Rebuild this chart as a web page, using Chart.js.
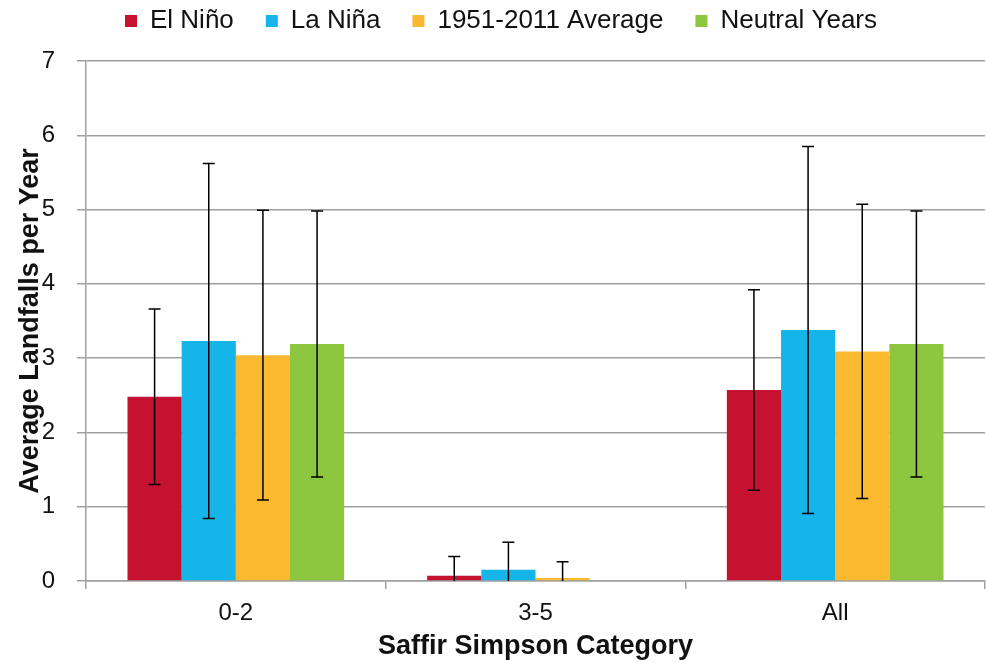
<!DOCTYPE html>
<html>
<head>
<meta charset="utf-8">
<script src="https://cdn.jsdelivr.net/npm/chart.js@4"></script>
<style>
  html, body { margin: 0; padding: 0; background: #fff; }
  #wrap { width: 986px; height: 663px; }
</style>
</head>
<body>
<div id="wrap"><canvas id="myChart" width="986" height="663"></canvas></div>
<script>
const categories = ["0-2", "3-5", "All"];
const seriesNames = ["El Niño", "La Niña", "1951-2011 Average", "Neutral Years"];
const elNino = [2.48, 0.07, 2.57];
const laNina = [3.23, 0.15, 3.38];
const average = [3.04, 0.04, 3.09];
const neutral = [3.19, 0, 3.19];
// +/- error sizes
const elNinoErr = [1.18, 0.26, 1.35];
const laNinaErr = [2.39, 0.37, 2.47];
const averageErr = [1.95, 0.22, 1.98];
const neutralErr = [1.79, 0, 1.79];
const yTicks = [0, 1, 2, 3, 4, 5, 6, 7];

const colors = ["#C41230", "#15B5E9", "#FBB930", "#8DC63F"];
const values = [elNino, laNina, average, neutral];
const errors = [elNinoErr, laNinaErr, averageErr, neutralErr];
const gridColor = "#a0a0a0";
const font = "'Liberation Sans', Arial, sans-serif";

const errorBars = {
  id: "errorBars",
  afterDatasetsDraw(chart) {
    const ctx = chart.ctx;
    const y = chart.scales.y;
    const area = chart.chartArea;
    ctx.save();
    ctx.beginPath();
    ctx.rect(area.left, area.top - 2, area.right - area.left, area.bottom - area.top + 2);
    ctx.clip();
    ctx.strokeStyle = "#000";
    ctx.lineWidth = 1.5;
    chart.data.datasets.forEach((ds, i) => {
      const meta = chart.getDatasetMeta(i);
      meta.data.forEach((bar, j) => {
        const err = errors[i][j];
        if (!err) return;
        const v = ds.data[j];
        const top = y.getPixelForValue(v + err);
        const bot = y.getPixelForValue(v - err);
        ctx.beginPath();
        ctx.moveTo(bar.x, top);
        ctx.lineTo(bar.x, bot);
        ctx.moveTo(bar.x - 6, top);
        ctx.lineTo(bar.x + 6, top);
        ctx.moveTo(bar.x - 6, bot);
        ctx.lineTo(bar.x + 6, bot);
        ctx.stroke();
      });
    });
    ctx.restore();
  },
};

// extra room under the legend
const legendSpacing = {
  id: "legendSpacing",
  beforeLayout(chart) {
    const lg = chart.legend;
    if (!lg || lg._padded) return;
    const fit = lg.fit;
    lg.fit = function () {
      fit.call(this);
      this.height += 17;
    };
    lg._padded = true;
  },
};

const ctx = document.getElementById("myChart").getContext("2d");
new Chart(ctx, {
  type: "bar",
  data: {
    labels: categories,
    datasets: seriesNames.map((name, i) => ({
      label: name,
      data: values[i],
      backgroundColor: colors[i],
      borderWidth: 0,
      categoryPercentage: 0.723,
      barPercentage: 1.0,
    })),
  },
  options: {
    responsive: false,
    animation: false,
    layout: { padding: { left: 17, right: 1, top: -24, bottom: 0 } },
    plugins: {
      legend: {
        position: "top",
        labels: {
          boxWidth: 12,
          boxHeight: 12,
          padding: 32,
          color: "#111",
          font: { family: font, size: 26 },
        },
      },
      tooltip: { enabled: false },
    },
    scales: {
      x: {
        afterFit: (axis) => { axis.height = 82; },
        grid: {
          offset: true,
          drawOnChartArea: false,
          color: gridColor,
          lineWidth: 1.5,
          tickLength: 8,
        },
        border: { color: gridColor, width: 1.5 },
        ticks: { color: "#111", padding: 10, font: { family: font, size: 24 } },
        title: {
          display: true,
          text: "Saffir Simpson Category",
          color: "#111",
          padding: { top: 2, bottom: 0 },
          font: { family: font, size: 27, weight: "bold", lineHeight: 1.2 },
        },
      },
      y: {
        min: 0,
        max: 7,
        afterBuildTicks: (axis) => { axis.ticks = yTicks.map((v) => ({ value: v })); },
        afterFit: (axis) => { axis.width = 69; },
        grid: { color: gridColor, lineWidth: 1.5, tickLength: 9 },
        border: { color: gridColor, width: 1.5 },
        ticks: { color: "#111", padding: 22, font: { family: font, size: 24 } },
        title: {
          display: true,
          text: "Average Landfalls per Year",
          color: "#111",
          padding: { top: 0, bottom: 0 },
          font: { family: font, size: 27, weight: "bold", lineHeight: 1 },
        },
      },
    },
  },
  plugins: [errorBars, legendSpacing],
});
</script>
</body>
</html>
